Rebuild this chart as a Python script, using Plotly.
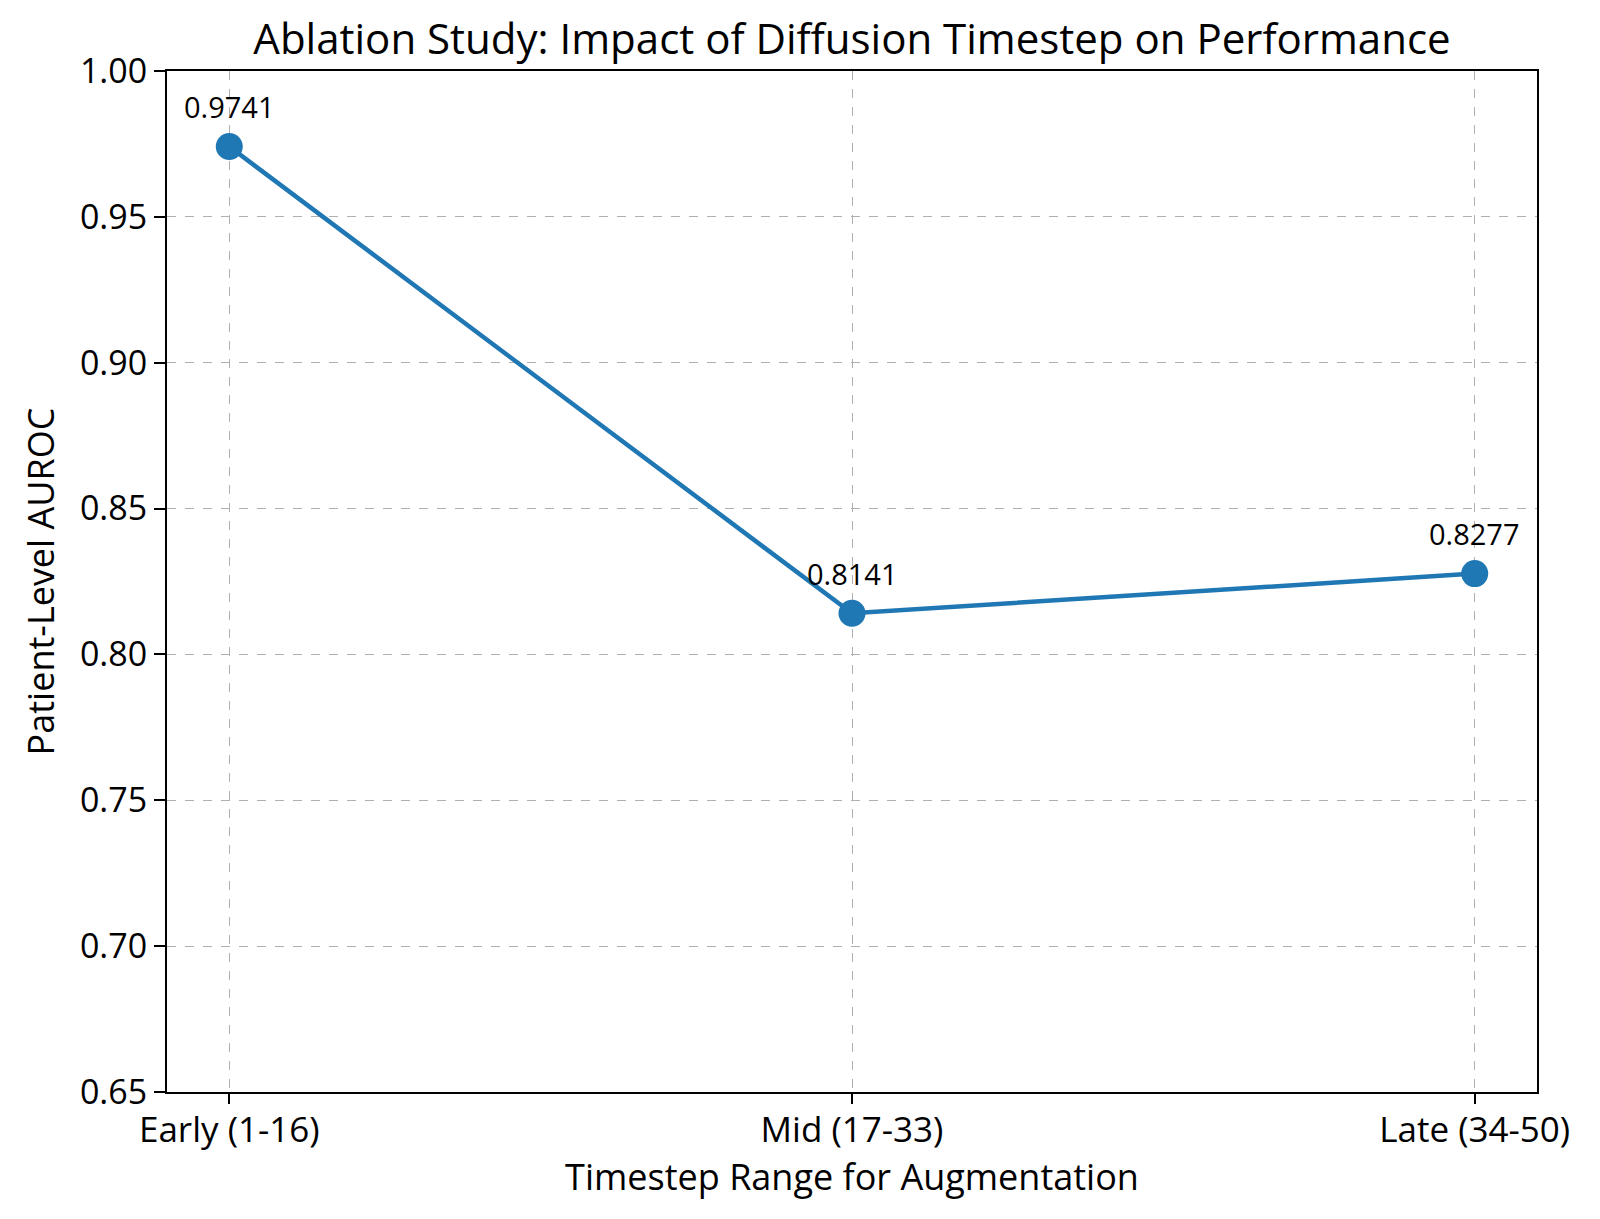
import plotly.graph_objects as go

categories = ["Early (1-16)", "Mid (17-33)", "Late (34-50)"]
auroc = [0.9741, 0.8141, 0.8277]
y_ticks = [0.65, 0.70, 0.75, 0.80, 0.85, 0.90, 0.95, 1.00]

FONT = "Open Sans"
fig = go.Figure()
fig.add_trace(go.Scatter(
    x=list(range(len(categories))), y=auroc, mode="lines+markers",
    line=dict(color="#1f77b4", width=4.5),
    marker=dict(color="#1f77b4", size=27),
    showlegend=False, cliponaxis=False,
))
for i, v in enumerate(auroc):
    fig.add_annotation(x=i, y=v, text=f"{v:.4f}", showarrow=False, yshift=40,
                       font=dict(family=FONT, size=29, color="black"))

fig.update_layout(
    width=1600, height=1219,
    paper_bgcolor="white", plot_bgcolor="white",
    margin=dict(l=167, r=63, t=71, b=127),
    font=dict(family=FONT, color="black"),
    title=dict(text="Ablation Study: Impact of Diffusion Timestep on Performance",
               x=0.5, xref="paper", y=1 - 39 / 1219, yanchor="middle",
               font=dict(family=FONT, size=42, color="black")),
)
fig.update_xaxes(
    range=[-0.1, 2.1], tickvals=list(range(len(categories))), ticktext=categories,
    showline=True, mirror=True, linecolor="black", linewidth=2,
    ticks="outside", ticklen=10, tickwidth=2, tickcolor="black",
    showgrid=True, gridcolor="#b0b0b0", griddash="dash", gridwidth=1,
    tickfont=dict(family=FONT, size=35), zeroline=False, automargin=False,
    ticklabelstandoff=-4,
    title=dict(text="Timestep Range for Augmentation", font=dict(family=FONT, size=36), standoff=6),
)
fig.update_yaxes(
    range=[0.65, 1.00], tickvals=y_ticks, ticktext=[f"{t:.2f}" for t in y_ticks],
    showline=True, mirror=True, linecolor="black", linewidth=2,
    ticks="outside", ticklen=11, tickwidth=2, tickcolor="black",
    showgrid=True, gridcolor="#b0b0b0", griddash="dash", gridwidth=1,
    tickfont=dict(family=FONT, size=34), zeroline=False, automargin=False,
    title=dict(text="Patient-Level AUROC", font=dict(family=FONT, size=36), standoff=14),
)
fig.write_html("out.html", config={"displayModeBar": False},
               post_script="document.body.style.margin='0px';")
